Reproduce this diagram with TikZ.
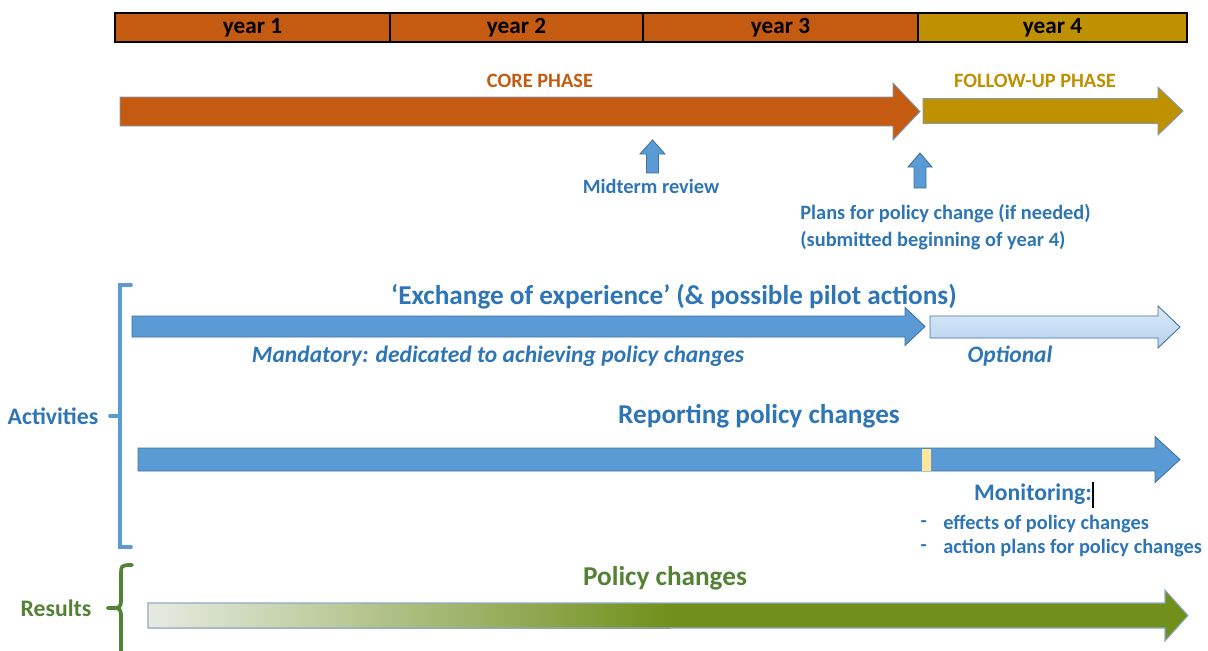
\documentclass[tikz,border=0pt]{standalone}
\usepackage{fontspec}
\setmainfont{Carlito}
\usepackage{xcolor}
\usepackage{tikz}
\usetikzlibrary{positioning, calc}

\definecolor{coreorange}{HTML}{C55A11}
\definecolor{followgold}{HTML}{BF9000}
\definecolor{barblue}{HTML}{5B9BD5}
\definecolor{textblue}{HTML}{2E75B6}
\definecolor{edgeblue}{HTML}{41719C}
\definecolor{lightblueA}{HTML}{DDEBF8}
\definecolor{lightblueB}{HTML}{B4D0EF}
\definecolor{resgreen}{HTML}{548235}
\definecolor{oliveend}{HTML}{70901B}
\definecolor{olivestart}{HTML}{E6EBE2}
\definecolor{markyellow}{HTML}{FFE699}

% horizontal block arrow: x start, x tip, y middle, half shaft, half head, head length
\newcommand{\harrow}[7][]{%
  \path[#1] (#2,#4-#5) -- (#3-#7,#4-#5) -- (#3-#7,#4-#6) -- (#3,#4)
    -- (#3-#7,#4+#6) -- (#3-#7,#4+#5) -- (#2,#4+#5) -- cycle;}
% vertical block arrow pointing up: x middle, y tip, y bottom, half shaft, half head, head length
\newcommand{\varrow}[7][]{%
  \path[#1] (#2,#3) -- (#2+#6,#3+#7) -- (#2+#5,#3+#7) -- (#2+#5,#4)
    -- (#2-#5,#4) -- (#2-#5,#3+#7) -- (#2-#6,#3+#7) -- cycle;}

\begin{document}
\begin{tikzpicture}[x=0.02cm, y=-0.02cm,
    yearcell/.style={inner sep=0pt, font=\bfseries\fontsize{13.2}{15}\selectfont},
    phasebar/.style={draw=edgeblue!70, line width=0.5pt},
    bluebar/.style={fill=barblue, draw=edgeblue, line width=0.5pt},
    label/.style={inner sep=0pt, text=textblue, font=\bfseries\fontsize{11.6}{14}\selectfont},
    midlabel/.style={label, font=\bfseries\fontsize{13.5}{16}\selectfont},
    biglabel/.style={inner sep=0pt, text=textblue, font=\bfseries\fontsize{15.5}{18}\selectfont},
    note/.style={inner sep=0pt, text=textblue, font=\bfseries\itshape\fontsize{13.4}{16}\selectfont},
    bracket/.style={line width=2.1pt, line cap=round}]

    \useasboundingbox (0,0) rectangle (1208,650);

    % years
    \fill[coreorange] (115,13) rectangle (918,42);
    \fill[followgold] (918,13) rectangle (1187,42);
    \draw[line width=0.6pt] (115,13) rectangle (1187,42);
    \foreach \xx in {390,643,918} \draw[line width=0.6pt] (\xx,13) -- (\xx,42);
    \node[yearcell] (y1) at (252.5,28) {year 1};
    \node[yearcell] (y2) at (516.5,28) {year 2};
    \node[yearcell] (y3) at (780.5,28) {year 3};
    \node[yearcell] (y4) at (1052.5,28) {year 4};

    % phases
    \harrow[phasebar, fill=coreorange]{120}{920}{111.5}{14.5}{28.5}{27}
    \harrow[phasebar, fill=followgold]{923}{1183}{111}{12.5}{24}{25}
    \node[label, text=coreorange] (core) at (540,81) {CORE PHASE};
    \node[label, text=followgold] (follow) at (1035,81) {FOLLOW-UP PHASE};

    % milestones
    \varrow[bluebar]{652.5}{140}{173}{6}{12.5}{14}
    \node[label] (midterm) at (651,186) {Midterm review};
    \varrow[bluebar]{920}{153}{188}{6}{12}{14}
    \node[label, anchor=west, align=left, font=\bfseries\fontsize{11.6}{15.5}\selectfont] (plans) at (800,227)
        {Plans for policy change (if needed)\\(submitted beginning of year 4)};

    % activities
    \draw[bracket, barblue] (131,285) -- (120,285) -- (120,547) -- (131,547);
    \draw[bracket, barblue] (120,416) -- (110,416);
    \node[midlabel] (activities) at (53,416) {Activities};

    \node[biglabel] (exchange) at (674,297) {`Exchange of experience' (\& possible pilot actions)};
    \harrow[bluebar]{132}{925}{326.5}{10.5}{19}{20}
    \harrow[draw=edgeblue, line width=0.5pt, top color=lightblueA, bottom color=lightblueB]{930}{1180}{327}{11}{21}{22}
    \node[note] (mandatory) at (498,356) {Mandatory: dedicated to achieving policy changes};
    \node[note] (optional) at (1010,356) {Optional};

    \node[biglabel] (reporting) at (759,416) {Reporting policy changes};
    \harrow[bluebar]{138}{1180}{459.5}{11.5}{23}{25}
    \fill[markyellow] (922,448.5) rectangle (931,470.5);
    \node[midlabel] (monitoring) at (1033,494) {Monitoring:};
    \draw[black, line width=0.6pt] (1093,482) -- (1093,508);
    \node[label, anchor=west] (effects) at (943,524) {effects of policy changes};
    \node[label, anchor=west] (actionplans) at (943,548) {action plans for policy changes};
    \node[label, anchor=east] at ([xshift=-9pt]effects.west) {-};
    \node[label, anchor=east] at ([xshift=-9pt]actionplans.west) {-};

    % results
    \draw[bracket, resgreen] (132,565) .. controls (121,565) .. (121,577) -- (121,598)
        .. controls (121,608) .. (108,608);
    \draw[bracket, resgreen] (108,608) .. controls (121,608) .. (121,618) -- (121,660);
    \node[midlabel, text=resgreen] (results) at (56,608) {Results};

    \node[biglabel, text=resgreen] (policy) at (665,578) {Policy changes};
    \harrow[fill=oliveend]{148}{1188}{615.5}{12.5}{25.5}{23}
    \shade[left color=olivestart, right color=oliveend] (148,603) rectangle (670,628);
    \harrow[draw=edgeblue!60, line width=0.6pt]{148}{1188}{615.5}{12.5}{25.5}{23}
\end{tikzpicture}
\end{document}
